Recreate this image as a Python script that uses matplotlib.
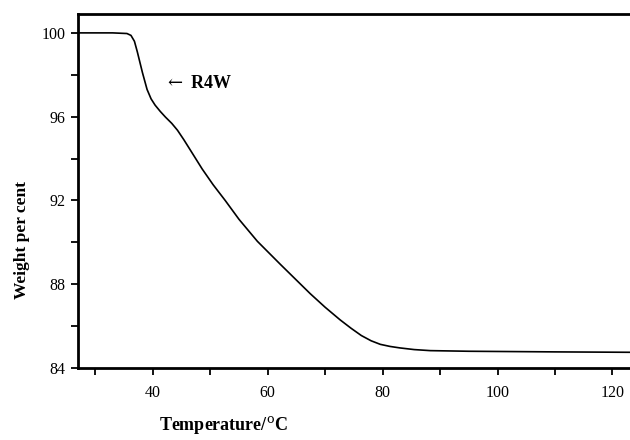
'''TGA curve of R4W: weight per cent against temperature.'''

from matplotlib import pyplot as plt
from matplotlib.ticker import MultipleLocator

# ----------------------------------------------------------------------------
# Data

temperature = [27.0, 30.0, 33.0, 35.5, 36.2, 36.8, 37.3, 38.2, 39.0, 39.7,
               40.4, 41.3, 42.2, 43.3, 44.3, 45.4, 46.5, 48.6, 50.5, 52.6,
               55.0, 58.2, 62.2, 64.8, 67.4, 70.0, 72.6, 74.5, 76.3, 78.0,
               79.6, 81.3, 83.0, 85.5, 88.3, 95.0, 100.0, 110.0, 123.5]
weight = [100.0, 100.0, 100.0, 99.97, 99.88, 99.6, 99.1, 98.1, 97.3, 96.85,
          96.55, 96.25, 95.98, 95.68, 95.35, 94.9, 94.42, 93.5, 92.75, 92.0,
          91.1, 90.05, 88.95, 88.25, 87.55, 86.9, 86.3, 85.9, 85.55, 85.3,
          85.13, 85.03, 84.96, 84.88, 84.83, 84.8, 84.79, 84.77, 84.75]

label_text = r'$\leftarrow$ R4W'

# ----------------------------------------------------------------------------

plt.rcParams['font.family'] = ['Liberation Serif', 'DejaVu Serif']
plt.rcParams['mathtext.fontset'] = 'dejavuserif'

figure = plt.figure(figsize=(6.3, 4.4), dpi=100)
ax = figure.add_axes([0.124, 0.1636, 0.88, 0.8045])

ax.plot(temperature, weight, color='black', linewidth=1.2)

ax.set_xlim(27, 123.5)
ax.set_ylim(84, 100.9)
ax.xaxis.set_major_locator(MultipleLocator(20))
ax.xaxis.set_minor_locator(MultipleLocator(10))
ax.yaxis.set_major_locator(MultipleLocator(4))
ax.yaxis.set_minor_locator(MultipleLocator(2))

ax.tick_params(axis='both', which='both', direction='out', width=1.3,
               labelsize=11.5)
ax.tick_params(axis='x', which='both', length=5, pad=7)
ax.tick_params(axis='y', which='both', length=5, pad=4)

for side in ['left', 'bottom', 'top']:
    ax.spines[side].set_linewidth(2)
ax.spines['right'].set_visible(False)

ax.text(42.0, 97.6, label_text, fontsize=13, fontweight='bold',
        va='center', ha='left')

figure.text(223 / 630, 1 - 425 / 440, 'Temperature/$^{\\rm o}$C',
            fontsize=13, fontweight='bold', ha='center', va='center')
figure.text(22 / 630, 1 - 240 / 440, 'Weight per cent', fontsize=12.5,
            fontweight='bold', rotation=90, ha='center', va='center')

figure.savefig('out.png', dpi=100)
